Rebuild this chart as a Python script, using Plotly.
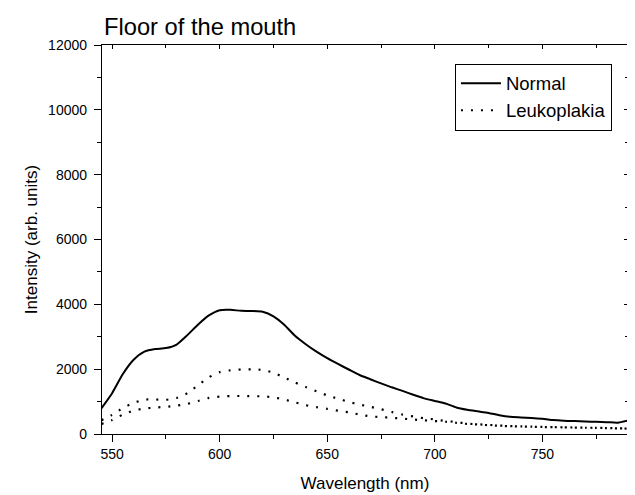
import plotly.graph_objects as go

wavelength = list(range(545, 791, 5))

normal = [790, 1260, 1850, 2290, 2540, 2620, 2650, 2760, 3050, 3380,
          3660, 3820, 3830, 3800, 3795, 3770, 3630, 3370, 3030, 2770,
          2540, 2340, 2160, 1990, 1820, 1690, 1560, 1440, 1330, 1210,
          1100, 1020, 940, 820, 750, 700, 650, 580, 530, 510,
          490, 470, 430, 410, 400, 385, 375, 365, 350, 420]

leuko_a = [420, 590, 800, 960, 1060, 1065, 1055, 1110, 1260, 1510,
           1750, 1910, 1965, 1990, 1995, 1975, 1890, 1740, 1590, 1450,
           1320, 1190, 1090, 990, 910, 840, 765, 680, 600, 540,
           485, 450, 400, 370, 320, 300, 280, 260, 245, 235,
           225, 218, 212, 206, 200, 195, 190, 185, 175, 170]

leuko_b = [310, 430, 600, 720, 785, 815, 840, 875, 930, 1020,
           1115, 1155, 1170, 1172, 1165, 1163, 1130, 1065, 975, 890,
           830, 775, 720, 670, 600, 545, 520, 500, 475, 445,
           422, 400, 378, 345, 310, 295, 270, 252, 240, 230,
           222, 215, 210, 204, 198, 193, 188, 182, 173, 168]

FONT = "Liberation Sans, Arial, Helvetica, sans-serif"

# the page body has an 8px margin, so the figure is sized to fit inside it
W, H = 627, 487

fig = go.Figure()
fig.add_trace(go.Scatter(x=wavelength, y=normal, mode="lines", name="Normal",
                         line=dict(color="black", width=2, shape="spline", smoothing=0.6)))
fig.add_trace(go.Scatter(x=wavelength, y=leuko_a, mode="lines", name="Leukoplakia",
                         line=dict(color="black", width=2.2, dash="2px,8px",
                                   shape="spline", smoothing=0.6)))
fig.add_trace(go.Scatter(x=wavelength, y=leuko_b, mode="lines", name="Leukoplakia",
                         showlegend=False,
                         line=dict(color="black", width=2.2, dash="2px,8px",
                                   shape="spline", smoothing=0.6)))
# invisible helper trace so that mirrored inner-tick axes are drawn
fig.add_trace(go.Scatter(x=[600], y=[0], xaxis="x2", yaxis="y2", mode="markers",
                         marker=dict(opacity=0), showlegend=False, hoverinfo="skip"))

common_x = dict(range=[545.3, 789.8], showgrid=False, zeroline=False,
                showline=True, linecolor="black", linewidth=1.3,
                tickcolor="black", tickwidth=1.3, tick0=550, dtick=50,
                automargin=False)
common_y = dict(range=[0, 12000], showgrid=False, zeroline=False,
                showline=True, linecolor="black", linewidth=1.3,
                tickcolor="black", tickwidth=1.3, tick0=0, dtick=2000,
                automargin=False, tickformat="d")

fig.update_layout(
    width=W, height=H,
    margin=dict(l=94, r=7, t=37, b=61),
    paper_bgcolor="white", plot_bgcolor="white",
    font=dict(family=FONT, color="black"),
    title=dict(text="Floor of the mouth", x=96/W, xanchor="left",
               y=1 - 19/H, yanchor="middle", yref="container",
               font=dict(size=23.7, family=FONT, color="black")),
    showlegend=True,
    legend=dict(x=0.671, y=0.952, xanchor="left", yanchor="top",
                bordercolor="black", borderwidth=1, bgcolor="white",
                font=dict(size=18.5, family=FONT), tracegroupgap=0,
                itemwidth=40),
    xaxis=dict(**common_x, ticks="outside", ticklen=7,
               minor=dict(ticks="outside", ticklen=4, dtick=25, tick0=550,
                          tickcolor="black", tickwidth=1.3),
               tickfont=dict(size=14, family=FONT),
               title=dict(text="Wavelength (nm)", font=dict(size=17, family=FONT),
                          standoff=16)),
    yaxis=dict(**common_y, ticks="outside", ticklen=7, ticklabelstandoff=4,
               minor=dict(ticks="outside", ticklen=4, dtick=1000,
                          tickcolor="black", tickwidth=1.3),
               tickfont=dict(size=14, family=FONT),
               title=dict(text="Intensity (arb. units)", font=dict(size=17, family=FONT),
                          standoff=6)),
    xaxis2=dict(**common_x, overlaying="x", side="top", anchor="y2",
                ticks="inside", ticklen=4, showticklabels=False,
                minor=dict(ticks="inside", ticklen=3, dtick=25, tick0=550,
                           tickcolor="black", tickwidth=1.3)),
    yaxis2=dict(**common_y, overlaying="y", side="right", anchor="x2",
                ticks="inside", ticklen=4, showticklabels=False,
                minor=dict(ticks="inside", ticklen=3, dtick=1000,
                           tickcolor="black", tickwidth=1.3)),
)

fig.write_html("out.html")
